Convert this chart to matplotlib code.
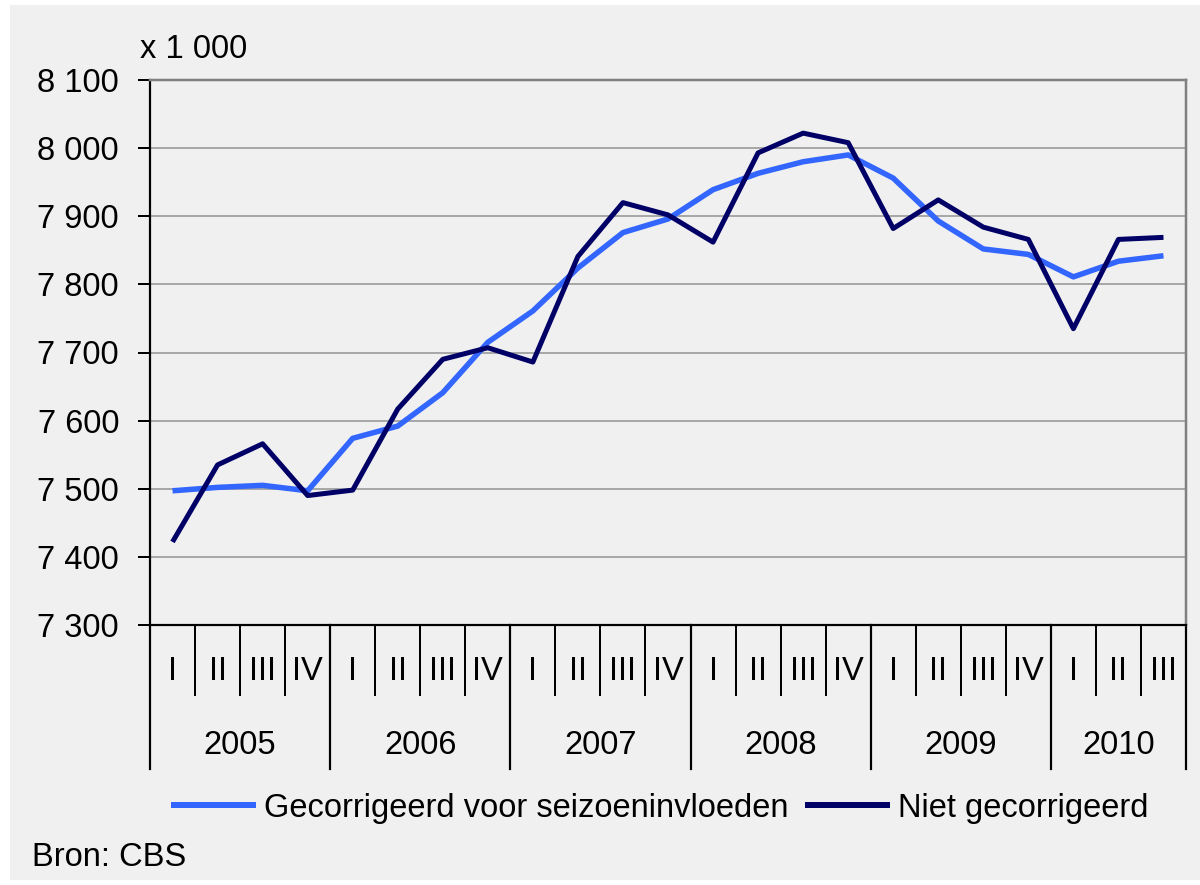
import matplotlib
matplotlib.use("Agg")
import matplotlib.pyplot as plt
from matplotlib.patches import Rectangle
import matplotlib.transforms as mtransforms

plt.rcParams['font.family'] = ['Liberation Sans', 'DejaVu Sans']

# ---- data ----
years = ["2005", "2006", "2007", "2008", "2009", "2010"]
quarters_per_year = [4, 4, 4, 4, 4, 3]
quarter_names = ["I", "II", "III", "IV"]

seasonally_adjusted = [7497, 7502, 7505, 7497,
                       7574, 7592, 7641, 7715,
                       7761, 7824, 7876, 7896,
                       7939, 7963, 7980, 7990,
                       7956, 7893, 7852, 7844,
                       7811, 7834, 7842]
not_adjusted = [7422, 7535, 7566, 7490,
                7498, 7617, 7690, 7707,
                7686, 7841, 7920, 7902,
                7862, 7993, 8022, 8008,
                7882, 7924, 7884, 7866,
                7735, 7866, 7869]

y_ticks = [7300, 7400, 7500, 7600, 7700, 7800, 7900, 8000, 8100]
y_tick_labels = ["7 300", "7 400", "7 500", "7 600", "7 700", "7 800", "7 900", "8 000", "8 100"]

label_adj = "Gecorrigeerd voor seizoeninvloeden"
label_raw = "Niet gecorrigeerd"
unit_label = "x 1 000"
source_label = "Bron: CBS"

# ---- style ----
W, H = 1200, 885
light_blue = "#3366ff"
navy = "#000066"
panel = "#f0f0f0"
grid_c = "#a8a8a8"
frame_c = "#808080"
fs = 23.5
px = 72 / 100.0  # points per pixel

fig = plt.figure(figsize=(W / 100, H / 100), dpi=100, facecolor="white")
fig.patches.append(Rectangle((10 / W, 5 / H), 1 - 10 / W, (880 - 5) / H,
                             transform=fig.transFigure, facecolor=panel,
                             edgecolor="none", zorder=-10))

left, right, top, bottom = 150, 1186, 80, 625
ax = fig.add_axes([left / W, 1 - bottom / H, (right - left) / W, (bottom - top) / H])
ax.set_facecolor(panel)

n = len(not_adjusted)
xs = [i + 0.5 for i in range(n)]

ax.plot(xs, seasonally_adjusted, color=light_blue, lw=5.5 * px, label=label_adj,
        solid_joinstyle="round", solid_capstyle="butt", zorder=3)
ax.plot(xs, not_adjusted, color=navy, lw=5.0 * px, label=label_raw,
        solid_joinstyle="round", solid_capstyle="butt", zorder=4)

ax.set_xlim(0, n)
ax.set_ylim(y_ticks[0], y_ticks[-1])
ax.set_yticks(y_ticks)
ax.set_yticklabels(y_tick_labels, fontsize=fs)
ax.tick_params(axis="y", direction="out", length=12 * px, width=2 * px,
               pad=19 * px, color="black")
ax.set_xticks([])

for v in y_ticks[1:-1]:
    ax.axhline(v, color=grid_c, lw=2 * px, zorder=1)

for s in ("left", "bottom"):
    ax.spines[s].set_color("black")
    ax.spines[s].set_linewidth(2.2 * px)
for s in ("top", "right"):
    ax.spines[s].set_color(frame_c)
    ax.spines[s].set_linewidth(2.5 * px)
ax.spines["bottom"].set_zorder(5)

# ---- multi-level category axis ----
trans = mtransforms.blended_transform_factory(ax.transData, ax.transAxes)
ah = bottom - top
q_tick_end = -(695 - bottom) / ah
y_tick_end = -(769 - bottom) / ah
q_label_y = -(672 - bottom) / ah
y_label_y = -(745 - bottom) / ah

pos = 0
for yr, nq in zip(years, quarters_per_year):
    ax.plot([pos, pos], [0, y_tick_end], transform=trans, color="black",
            lw=2.2 * px, clip_on=False)
    for q in range(nq):
        if q > 0:
            ax.plot([pos + q, pos + q], [0, q_tick_end], transform=trans,
                    color="black", lw=2 * px, clip_on=False)
        ax.text(pos + q + 0.5, q_label_y, quarter_names[q], transform=trans,
                ha="center", va="center", fontsize=fs)
    ax.text(pos + nq / 2, y_label_y, yr, transform=trans, ha="center",
            va="center", fontsize=fs)
    pos += nq
ax.plot([pos, pos], [0, y_tick_end], transform=trans, color="black",
        lw=2.2 * px, clip_on=False)

# ---- texts ----
fig.text(140 / W, 1 - 50 / H, unit_label, fontsize=fs, ha="left", va="center")
fig.text(32 / W, 1 - 857 / H, source_label, fontsize=fs, ha="left", va="center")

handles, labels = ax.get_legend_handles_labels()
leg = fig.legend(handles, labels, loc="center", bbox_to_anchor=(660 / W, 1 - 808 / H),
                 ncol=2, frameon=False, fontsize=fs, handlelength=2.6,
                 handletextpad=0.25, columnspacing=0.5, borderpad=0)
for lh in leg.get_lines():
    lh.set_linewidth(6 * px)

fig.savefig("out.png", dpi=100, facecolor="white")
